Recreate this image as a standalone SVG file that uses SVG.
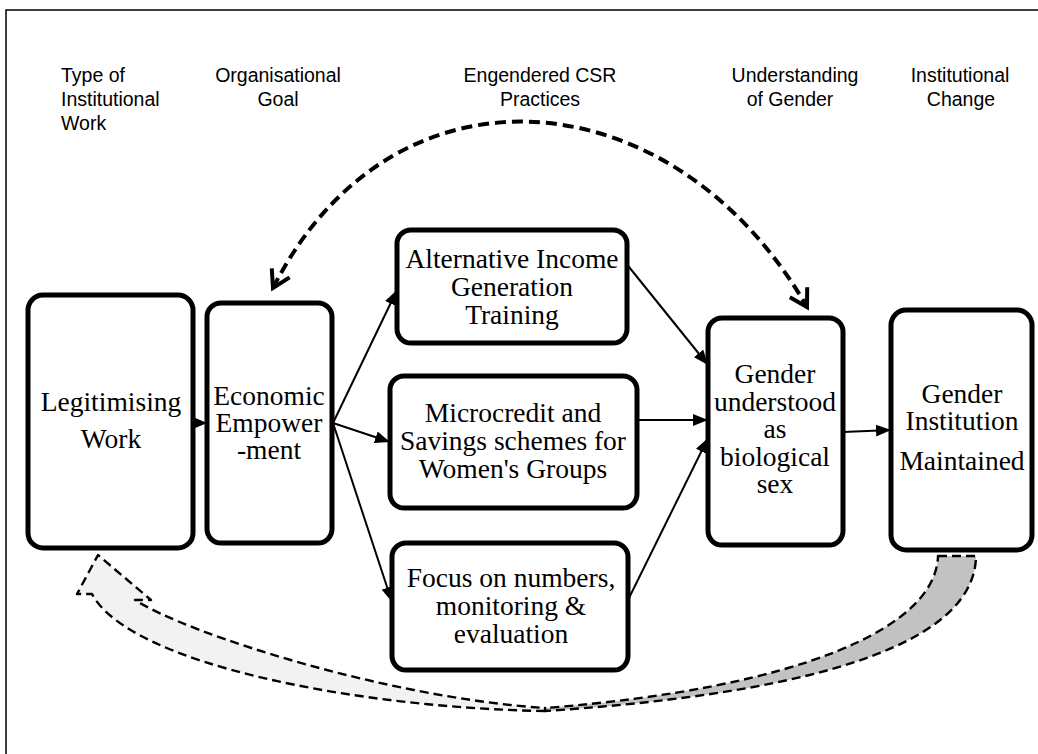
<svg xmlns="http://www.w3.org/2000/svg" width="1038" height="754" viewBox="0 0 1038 754">
  <style>
    .hdr { font-family: "Liberation Sans", Arial, sans-serif; font-size: 19.5px; fill: #000; }
    .lbl { font-family: "Liberation Serif", "Times New Roman", serif; font-size: 27.5px; fill: #000; text-anchor: middle; }
    .box { fill: #fff; stroke: #000; stroke-width: 5; }
    .link { stroke: #000; stroke-width: 2; fill: none; marker-end: url(#ah); }
    .loop { stroke: #000; stroke-width: 4; fill: none; stroke-dasharray: 11 6; }
    .ribbon { stroke: #000; stroke-width: 2.4; stroke-dasharray: 9 5; stroke-linejoin: round; }
  </style>
  <defs>
    <marker id="ah" viewBox="0 0 15 12" refX="15" refY="6" markerWidth="15" markerHeight="12" markerUnits="userSpaceOnUse" orient="auto">
      <path d="M0,0 L15,6 L0,12 z" fill="#000"/>
    </marker>
    <marker id="open" viewBox="0 0 24 24" refX="21" refY="12" markerWidth="24" markerHeight="24" markerUnits="userSpaceOnUse" orient="auto-start-reverse" overflow="visible">
      <path d="M4,2 L21,12 L4,22" fill="none" stroke="#000" stroke-width="4"/>
    </marker>
  </defs>

  <rect width="1038" height="754" fill="#fff"/>
  <!-- frame -->
  <path d="M6,754 V10 H1038" fill="none" stroke="#000" stroke-width="1.5"/>

  <!-- column headings -->
  <g id="headings">
    <text class="hdr" x="61" y="82">Type of</text>
    <text class="hdr" x="61" y="106">Institutional</text>
    <text class="hdr" x="61" y="130">Work</text>
    <text class="hdr" x="278" y="82" text-anchor="middle">Organisational</text>
    <text class="hdr" x="278" y="106" text-anchor="middle">Goal</text>
    <text class="hdr" x="540" y="82" text-anchor="middle">Engendered CSR</text>
    <text class="hdr" x="540" y="106" text-anchor="middle">Practices</text>
    <text class="hdr" x="795" y="82" text-anchor="middle">Understanding</text>
    <text class="hdr" x="790" y="106" text-anchor="middle">of Gender</text>
    <text class="hdr" x="960" y="82" text-anchor="middle">Institutional</text>
    <text class="hdr" x="961" y="106" text-anchor="middle">Change</text>
  </g>

  <!-- feedback ribbon from institution back to work -->
  <g id="feedback">
    <path class="ribbon" fill="#c2c2c2" d="M938,556 L976,556 C975,640 830,692 545,711 L545,708 C800,688 936,628 938,556 Z"/>
    <path class="ribbon" fill="#f2f2f2" d="M545,711 C360,708 130,665 92,594 L77,594 L98,555 L151,600 L135,600 C190,635 390,698 545,708 Z"/>
  </g>

  <!-- connectors -->
  <g id="connectors">
    <path class="loop" d="M273,288 C393,51 674,76 807,307" marker-start="url(#open)" marker-end="url(#open)"/>
    <polygon points="193,417 207,423 193,429" fill="#000"/>
    <line class="link" x1="333" y1="423" x2="397" y2="290"/>
    <line class="link" x1="333" y1="423" x2="390" y2="442"/>
    <line class="link" x1="333" y1="423" x2="392" y2="602"/>
    <line class="link" x1="625" y1="262" x2="708" y2="365"/>
    <line class="link" x1="638" y1="420" x2="708" y2="420"/>
    <line class="link" x1="628" y1="600" x2="708" y2="438"/>
    <line class="link" x1="843" y1="432" x2="891" y2="430"/>
  </g>

  <g id="legitimising">
    <rect class="box" x="28" y="295" width="165" height="253" rx="15"/>
    <text class="lbl" x="111" y="411">Legitimising</text>
    <text class="lbl" x="111" y="448">Work</text>
  </g>

  <g id="economic">
    <rect class="box" x="207" y="303" width="125" height="240" rx="14"/>
    <text class="lbl" x="269" y="405">Economic</text>
    <text class="lbl" x="269" y="432">Empower</text>
    <text class="lbl" x="269" y="459">-ment</text>
  </g>

  <g id="income">
    <rect class="box" x="397" y="230" width="230" height="113" rx="14"/>
    <text class="lbl" x="512" y="268">Alternative Income</text>
    <text class="lbl" x="512" y="296">Generation</text>
    <text class="lbl" x="512" y="324">Training</text>
  </g>

  <g id="microcredit">
    <rect class="box" x="390" y="376" width="247" height="132" rx="14"/>
    <text class="lbl" x="513" y="422">Microcredit and</text>
    <text class="lbl" x="513" y="450">Savings schemes for</text>
    <text class="lbl" x="513" y="478">Women's Groups</text>
  </g>

  <g id="focus">
    <rect class="box" x="392" y="543" width="236" height="127" rx="14"/>
    <text class="lbl" x="511" y="587">Focus on numbers,</text>
    <text class="lbl" x="511" y="615">monitoring &amp;</text>
    <text class="lbl" x="511" y="643">evaluation</text>
  </g>

  <g id="gender-sex">
    <rect class="box" x="708" y="318" width="135" height="227" rx="14"/>
    <text class="lbl" x="775" y="383">Gender</text>
    <text class="lbl" x="775" y="411">understood</text>
    <text class="lbl" x="775" y="438">as</text>
    <text class="lbl" x="775" y="466">biological</text>
    <text class="lbl" x="775" y="493">sex</text>
  </g>

  <g id="institution">
    <rect class="box" x="891" y="310" width="141" height="240" rx="15"/>
    <text class="lbl" x="962" y="403">Gender</text>
    <text class="lbl" x="962" y="430">Institution</text>
    <text class="lbl" x="962" y="470">Maintained</text>
  </g>
</svg>
